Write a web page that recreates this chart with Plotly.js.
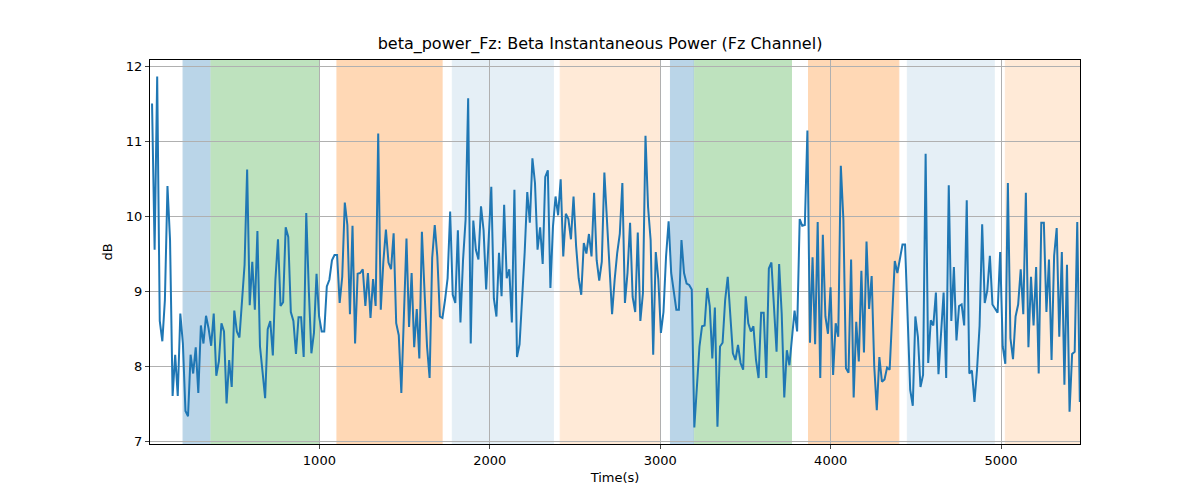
<!DOCTYPE html>
<html>
<head>
<meta charset="utf-8">
<script src="https://cdn.plot.ly/plotly-3.0.1.min.js"></script>
<style>body{margin:0;background:#fff}</style>
</head>
<body>
<div id="chart" style="width:1200px;height:500px"></div>
<script>
// sampled power values (dB), one every ~15 s
var power = [
  11.5, 9.55, 11.86, 8.6, 8.33, 8.88, 10.4, 9.68, 7.6, 8.15, 7.6, 8.7, 8.3, 7.4, 7.33, 8.15, 7.9, 8.25, 7.64, 8.54,
  8.3, 8.67, 8.5, 8.27, 8.7, 7.87, 8.06, 8.57, 8.46, 7.5, 8.08, 7.72, 8.74, 8.46, 8.38, 8.88, 9.35, 10.62, 8.81, 9.39,
  8.75, 9.8, 8.26, 7.92, 7.57, 8.49, 8.6, 8.14, 9.15, 9.69, 8.8, 8.85, 9.85, 9.72, 8.72, 8.6, 8.16, 8.65, 8.65, 8.12,
  10.04, 9.01,
  8.17, 8.44, 9.23, 8.66, 8.46, 8.46, 9.06, 9.15, 9.41, 9.48, 9.48, 8.84, 9.19, 10.18, 9.88, 8.69, 9.87, 8.3, 9.23, 9.24,
  9.29, 8.8, 9.24, 8.64, 9.16, 8.8, 11.1, 8.75, 9.39, 9.82, 9.38, 9.29, 9.77, 8.57, 8.41, 7.64, 8.66, 9.7, 8.52, 9.24,
  8.25, 8.76, 8.1, 9.79, 9.01, 8.26, 7.84, 9.44, 9.88, 9.46, 8.66, 8.64, 8.88, 9.17, 10.06, 8.95, 8.84, 9.81, 8.58,
  9.41, 9.95, 11.57, 8.3, 9.94, 9.55, 9.42, 10.13, 9.81, 9.02, 9.72, 10.39, 8.9, 8.66, 9.51, 8.93, 10.15, 9.17, 9.29, 8.58,
  10.35, 8.12, 8.29, 8.88, 9.52, 10.32, 9.91, 10.77, 10.44, 9.55, 9.85, 9.36, 10.52, 10.61, 9.04, 9.86, 10.26, 10.01, 10.49, 9.46,
  10.03, 9.96, 9.69, 10.26, 9.6, 9.17, 8.95, 9.64, 9.5, 9.76, 9.46, 10.31, 9.41, 9.14, 9.39, 10.58, 9.95, 9.19, 8.69,
  9.15, 9.51, 9.76, 10.44, 8.84, 9.24, 9.91, 8.92, 8.72, 9.78, 8.6, 8.97, 11.07, 10.12, 9.68, 8.15, 9.52, 9.15, 8.44, 8.72,
  9.46, 9.93, 9.24, 9.01, 8.75, 8.75, 9.68, 9.24, 9.1, 9.08, 9.02, 7.18, 7.81, 8.26, 8.53, 8.54, 9.04, 8.8, 8.1, 8.78,
  7.19, 8.26, 8.31, 8.88, 9.19, 8.7, 8.17, 8.08, 8.28, 8.04, 7.95, 8.93, 8.57, 8.46, 8.53, 8.08, 7.84, 8.71, 8.71,
  7.84, 9.3, 9.38, 8.8, 8.19, 9.36, 8.7, 7.58, 8.21, 8.01, 8.39, 8.74, 8.46, 9.96, 9.87, 9.88, 11.14, 8.31, 9.45, 8.29,
  9.92, 7.84, 9.75, 8.66, 8.43, 9.05, 7.88, 8.57, 8.39, 10.67, 9.95, 7.97, 7.91, 9.42, 7.58, 8.59, 8.06, 9.27, 8.18, 9.66,
  8.76, 9.2, 8.0, 7.41, 8.12, 7.79, 7.82, 7.98, 7.95, 8.7, 9.4, 9.24, 9.46, 9.62, 9.62, 8.52, 7.68, 7.47, 8.66, 8.39,
  7.72, 7.88, 10.83, 8.04, 8.61, 8.54, 8.98, 7.89, 8.48, 8.98, 7.84, 10.41, 8.6, 9.32, 8.34, 8.8, 8.82, 8.54, 10.21, 7.9,
  7.94, 7.52, 7.95, 8.54, 9.89, 8.84, 9.01, 9.47, 8.82, 8.76, 8.71, 9.52, 8.26, 8.03, 10.44, 8.37, 8.09, 8.66, 8.82, 9.29,
  8.69, 10.31, 8.25, 9.19, 8.54, 9.32, 7.9, 9.91, 9.91, 8.72, 9.42, 8.08, 9.47, 9.84, 8.39, 9.52, 7.75, 9.35, 7.39, 8.16,
  8.19, 9.92, 7.52
];
var tStart = 18;
var tEnd = 5462;
var times = power.map(function (v, i) { return tStart + i * (tEnd - tStart) / (power.length - 1); });

// shaded segments: [start, end, colour, opacity]
var segStart = [200, 364, 1103, 1780, 2413, 3060, 3200, 3870, 4450, 5025];
var segEnd   = [358, 1000, 1720, 2373, 2995, 3195, 3770, 4400, 4960, 5470];
var segColor = ['#1f77b4', '#2ca02c', '#ff7f0e', '#1f77b4', '#ff7f0e', '#1f77b4', '#2ca02c', '#ff7f0e', '#1f77b4', '#ff7f0e'];
var segAlpha = [0.3, 0.3, 0.3, 0.11, 0.16, 0.3, 0.3, 0.3, 0.11, 0.16];

var shapes = segStart.map(function (s, i) {
  return {
    type: 'rect', xref: 'x', yref: 'paper', x0: s, x1: segEnd[i], y0: 0, y1: 1,
    fillcolor: segColor[i], opacity: segAlpha[i], line: {width: 1, color: segColor[i]}, layer: 'below'
  };
});

var trace = {
  x: times, y: power, type: 'scatter', mode: 'lines',
  line: {color: '#1f77b4', width: 2}, hoverinfo: 'x+y'
};

var layout = {
  width: 1200, height: 500,
  margin: {l: 150, r: 120, t: 60, b: 56},
  paper_bgcolor: '#fff', plot_bgcolor: 'rgba(0,0,0,0)',
  font: {family: 'DejaVu Sans', size: 13, color: '#000'},
  title: {text: 'beta_power_Fz: Beta Instantaneous Power (Fz Channel)', x: 0.5, xanchor: 'center', y: 0.925, font: {size: 16}},
  showlegend: false,
  shapes: shapes,
  xaxis: {
    title: {text: 'Time(s)', standoff: 6, font: {size: 13}}, range: [6, 5463],
    tickvals: [1000, 2000, 3000, 4000, 5000], ticks: 'outside', ticklen: 4,
    showgrid: true, gridcolor: '#b0b0b0', gridwidth: 1, zeroline: false,
    showline: true, mirror: true, linecolor: '#000', linewidth: 1
  },
  yaxis: {
    title: {text: 'dB', standoff: 10, font: {size: 13}}, range: [6.96, 12.08],
    tickvals: [7, 8, 9, 10, 11, 12], ticks: 'outside', ticklen: 4,
    showgrid: true, gridcolor: '#b0b0b0', gridwidth: 1, zeroline: false,
    showline: true, mirror: true, linecolor: '#000', linewidth: 1
  }
};

Plotly.newPlot('chart', [trace], layout, {displayModeBar: false, staticPlot: true});
</script>
</body>
</html>
